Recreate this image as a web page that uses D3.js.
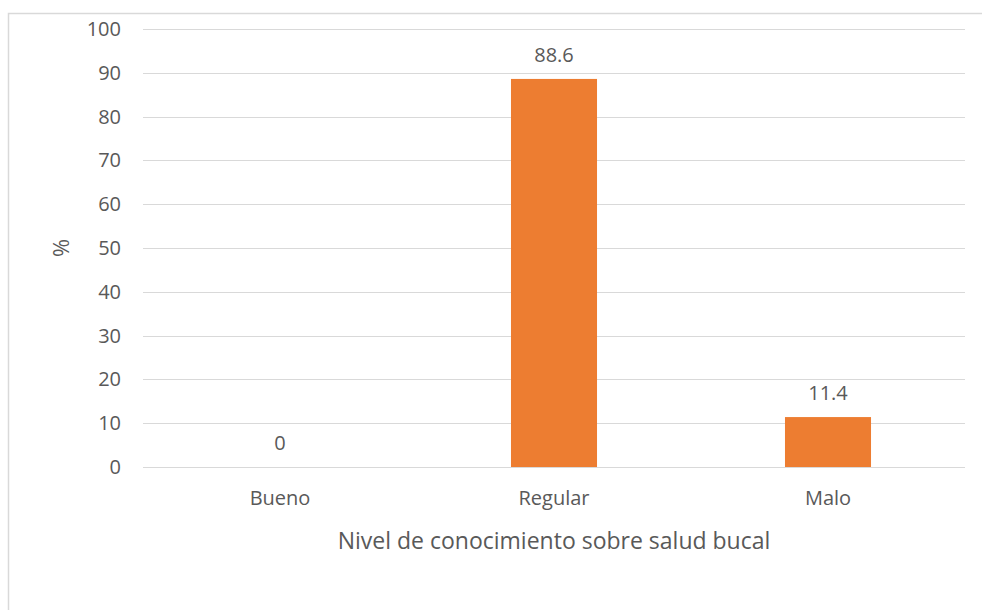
<!DOCTYPE html>
<html>
<head>
<meta charset="utf-8">
<script src="https://cdn.jsdelivr.net/npm/d3@7"></script>
<style>
  body { margin: 0; background: #fff; }
  text { font-family: "Open Sans", sans-serif; fill: #595959; }
</style>
</head>
<body>
<script>
const categories = ["Bueno", "Regular", "Malo"];
const values = [0, 88.6, 11.4];
const yTicks = [0, 10, 20, 30, 40, 50, 60, 70, 80, 90, 100];

const W = 982, H = 610;
const svg = d3.select("body").append("svg").attr("width", W).attr("height", H);

// chart frame
svg.append("rect")
    .attr("x", 8.5).attr("y", 13.5)
    .attr("width", 990).attr("height", 620)
    .attr("fill", "#fff").attr("stroke", "#d9d9d9").attr("stroke-width", 1.5);

const x = d3.scaleBand().domain(categories).range([143, 965]).paddingInner(0.686).paddingOuter(0.343);
const y = d3.scaleLinear().domain([0, 100]).range([467, 29]);

svg.selectAll(".grid").data(yTicks).enter().append("line")
    .attr("x1", 143).attr("x2", 965)
    .attr("y1", d => Math.round(y(d)) + 0.5).attr("y2", d => Math.round(y(d)) + 0.5)
    .attr("stroke", "#d9d9d9").attr("stroke-width", 1);

svg.selectAll(".ytick").data(yTicks).enter().append("text")
    .attr("x", 121).attr("y", d => y(d) + 7)
    .attr("text-anchor", "end").style("font-size", "20px")
    .text(d => d);

svg.selectAll(".bar").data(values).enter().append("rect")
    .attr("x", (d, i) => x(categories[i]))
    .attr("y", d => y(d))
    .attr("width", x.bandwidth())
    .attr("height", d => y(0) - y(d))
    .attr("fill", "#ed7d31");

svg.selectAll(".lbl").data(values).enter().append("text")
    .attr("x", (d, i) => x(categories[i]) + x.bandwidth() / 2)
    .attr("y", d => y(d) - 17)
    .attr("text-anchor", "middle").style("font-size", "20px")
    .text(d => d);

svg.selectAll(".cat").data(categories).enter().append("text")
    .attr("x", d => x(d) + x.bandwidth() / 2)
    .attr("y", 505)
    .attr("text-anchor", "middle").style("font-size", "20px")
    .text(d => d);

svg.append("text")
    .attr("x", 554).attr("y", 549)
    .attr("text-anchor", "middle").style("font-size", "23px")
    .text("Nivel de conocimiento sobre salud bucal");

svg.append("text")
    .attr("transform", "translate(69,248) rotate(-90)")
    .attr("text-anchor", "middle").style("font-size", "22px")
    .text("%");
</script>
</body>
</html>
